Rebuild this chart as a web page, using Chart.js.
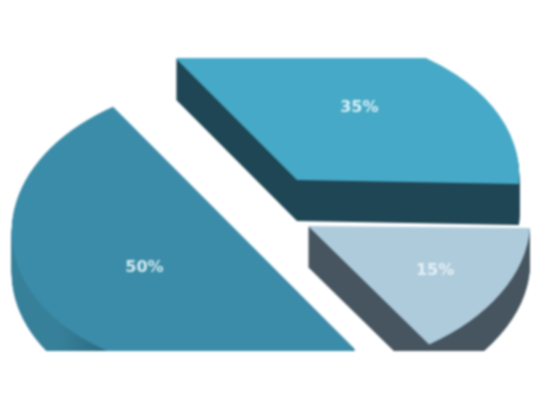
<!DOCTYPE html>
<html><head><meta charset="utf-8">
<style>html,body{margin:0;padding:0;background:#fff}canvas{display:block;filter:blur(0.8px)}</style>
<script src="https://cdn.jsdelivr.net/npm/chart.js@4"></script></head>
<body><canvas id="c" width="550" height="412"></canvas>
<script>
const sliceLabels = ['35%','15%','50%'];
const sliceValues = [35,15,50];
const topColors = ['#46a9c7','#aecbdc','#3b8ca9'];
const sideColors = ['#1f4655','#46555f','#37809a'];
const sideShadeEnd = ['#1f4655','#46555f','#2a667f'];
const textColors = ['#d9f0f6','#e6f0f5','#d4ebf1'];

// layout of the exploded, tilted view
const shifts = [[22,-26],[33,20],[-41,22]];
const labelReach = [0.56,0.66,0.48];
const radiusY = [147,145,147];
const shearY = [0.018,0.009,0.018];
const RX = 222, SHEAR_X = 0.08, DEPTH = 41;
const CLIP_TOP = 58, CLIP_BOTTOM = 351;

function place(ctx, arc, i, drop){
  const sx = RX/arc.outerRadius, sy = radiusY[i]/arc.outerRadius;
  ctx.translate(arc.x+shifts[i][0], arc.y+shifts[i][1]+drop);
  ctx.transform(sx, shearY[i]*sx, -SHEAR_X*sy, sy, 0, 0);
  ctx.translate(-arc.x,-arc.y);
}
function paint(ctx, arc, color){
  const saved = arc.options;
  arc.options = {backgroundColor:color,borderColor:'transparent',borderWidth:0,borderRadius:0,offset:0,spacing:0,circular:true,borderAlign:'center',borderDash:[],borderDashOffset:0,borderJoinStyle:'round'};
  arc.draw(ctx);
  arc.options = saved;
}
const tilted = {
  id:'tilted',
  beforeDatasetDraw(){ return false; },
  afterDatasetsDraw(chart){
    const ctx = chart.ctx, arcs = chart.getDatasetMeta(0).data;
    ctx.save();
    ctx.beginPath(); ctx.rect(0,CLIP_TOP,550,CLIP_BOTTOM-CLIP_TOP); ctx.clip();
    arcs.forEach((arc,i)=>{
      const g = ctx.createLinearGradient(arc.x-arc.outerRadius,0,arc.x-arc.outerRadius*0.5,0);
      g.addColorStop(0,sideColors[i]); g.addColorStop(0.5,sideColors[i]); g.addColorStop(1,sideShadeEnd[i]);
      for(let d=DEPTH;d>=1;d--){ ctx.save(); place(ctx,arc,i,d); paint(ctx,arc,g); ctx.restore(); }
    });
    arcs.forEach((arc,i)=>{ ctx.save(); place(ctx,arc,i,0); paint(ctx,arc,topColors[i]); ctx.restore(); });
    ctx.textAlign='center'; ctx.textBaseline='middle'; ctx.font='bold 16px "DejaVu Sans"';
    arcs.forEach((arc,i)=>{
      const mid=(arc.startAngle+arc.endAngle)/2, r=labelReach[i]*arc.outerRadius;
      ctx.save(); place(ctx,arc,i,0);
      const p=new DOMPoint(arc.x+Math.cos(mid)*r, arc.y+Math.sin(mid)*r).matrixTransform(ctx.getTransform());
      ctx.restore();
      const ratio=chart.currentDevicePixelRatio||1;
      ctx.fillStyle=textColors[i];
      ctx.fillText(sliceLabels[i],p.x/ratio,p.y/ratio);
    });
    ctx.restore();
  }
};
new Chart(document.getElementById('c'),{
  type:'pie',
  data:{labels:sliceLabels,datasets:[{data:sliceValues,backgroundColor:topColors,borderWidth:0}]},
  options:{responsive:false,animation:false,rotation:-36,
    plugins:{legend:{display:false},tooltip:{enabled:false}},
    layout:{padding:0}},
  plugins:[tilted]
});
</script></body></html>
